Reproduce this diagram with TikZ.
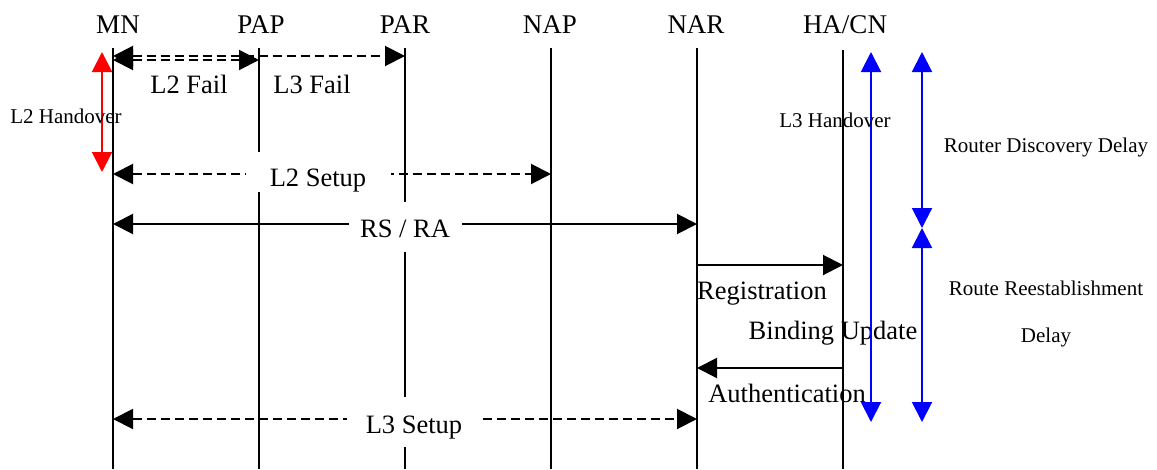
\documentclass[tikz,border=0pt]{standalone}
\usepackage{fontspec}
\setmainfont{Liberation Serif}
\usetikzlibrary{arrows.meta}
\begin{document}
\begin{tikzpicture}[x=1pt,y=-1pt,
  >={Triangle[length=20pt,width=20pt]},
  life/.style={line width=2pt},
  msg/.style={line width=2pt},
  dsh/.style={line width=2pt, dash pattern=on 9pt off 5pt},
  hdr/.style={font=\fontsize{27}{30}\selectfont, anchor=base, inner sep=0pt},
  lbl/.style={font=\fontsize{26.5}{30}\selectfont, anchor=base, inner sep=0pt},
  sml/.style={font=\fontsize{21}{24}\selectfont, anchor=base, inner sep=0pt},
  cover/.style={lbl, fill=white, inner xsep=0pt, inner ysep=0pt},
  redarr/.style={line width=2pt, red, <->},
  bluearr/.style={line width=2pt, blue, <->},
]
\useasboundingbox (0,0) rectangle (1157,469);
% headers
\node[hdr] (MN)  at (118,33) {MN};
\node[hdr] (PAP) at (261,33) {PAP};
\node[hdr] (PAR) at (405,33) {PAR};
\node[hdr] (NAP) at (550,33) {NAP};
\node[hdr] (NAR) at (696,33) {NAR};
\node[hdr] (HA)  at (845,33) {HA/CN};
% lifeline ends
\coordinate (mnT) at (113,48);  \coordinate (mnB) at (113,469);
\coordinate (papT) at (259,48); \coordinate (papB) at (259,469);
\coordinate (parT) at (405,48); \coordinate (parB) at (405,469);
\coordinate (napT) at (551,48); \coordinate (napB) at (551,469);
\coordinate (narT) at (697,48); \coordinate (narB) at (697,469);
\coordinate (haT) at (843,50);  \coordinate (haB) at (843,469);
\draw[life] (mnT) -- (mnB);
\draw[life] (papT) -- (papB);
\draw[life] (parT) -- (parB);
\draw[life] (napT) -- (napB);
\draw[life] (narT) -- (narB);
\draw[line width=1.4pt] (haT) -- (haB);
% rows
\coordinate (y56) at (0,56);
\coordinate (y60) at (0,60);
\coordinate (y174) at (0,174);
\coordinate (y224) at (0,224);
\coordinate (y265) at (0,265);
\coordinate (y368) at (0,368);
\coordinate (y419) at (0,419);
% fail arrows
\draw[dsh,<->] (mnT |- y56) -- (parT |- y56);
\draw[dsh,<->] (mnT |- y60) -- (papT |- y60);
\node[lbl] (l2fail) at (189,93) {L2 Fail};
\node[lbl] (l3fail) at (312,93) {L3 Fail};
% L2 handover
\coordinate (rTop) at (102,52);
\coordinate (rBot) at (102,172);
\draw[redarr] (rTop) -- (rBot);
\node[sml] (l2ho) at (66,123) {L2 Handover};
% L2 setup
\draw[dsh,<->] (mnT |- y174) -- (napT |- y174);
\node[cover, minimum width=145pt, text height=34pt, text depth=6pt] (l2setup) at (318,186) {L2 Setup};
% RS / RA
\draw[msg,<->] (mnT |- y224) -- (narT |- y224);
\node[cover, minimum width=113pt, text height=35pt, text depth=15pt] (rsra) at (405,237) {RS / RA};
% registration
\draw[msg,->] (narT |- y265) -- (haT |- y265);
\node[lbl, anchor=base west] (reg) at (697,299) {Registration};
\node[lbl] (bu) at (833,339) {Binding Update};
% authentication
\draw[msg,->] (haT |- y368) -- (narT |- y368);
\node[lbl] (auth) at (787,402) {Authentication};
% L3 setup
\draw[dsh,<->] (mnT |- y419) -- (narT |- y419);
\node[cover, minimum width=135pt, text height=36pt, text depth=14pt] (l3setup) at (414,433) {L3 Setup};
% blue delay arrows
\coordinate (b1T) at (871,52); \coordinate (b1B) at (871,422);
\coordinate (b2T) at (922,52); \coordinate (b2M) at (922,228); \coordinate (b2B) at (922,422);
\draw[bluearr] (b1T) -- (b1B);
\draw[bluearr] (b2T) -- (b2M);
\draw[bluearr] (b2M) -- (b2B);
\node[sml] (l3ho) at (835,127) {L3 Handover};
\node[sml] (rdd) at (1046,152) {Router Discovery Delay};
\node[sml] (rre) at (1046,295) {Route Reestablishment};
\node[sml] (rre2) at (1046,342) {Delay};
\end{tikzpicture}
\end{document}
